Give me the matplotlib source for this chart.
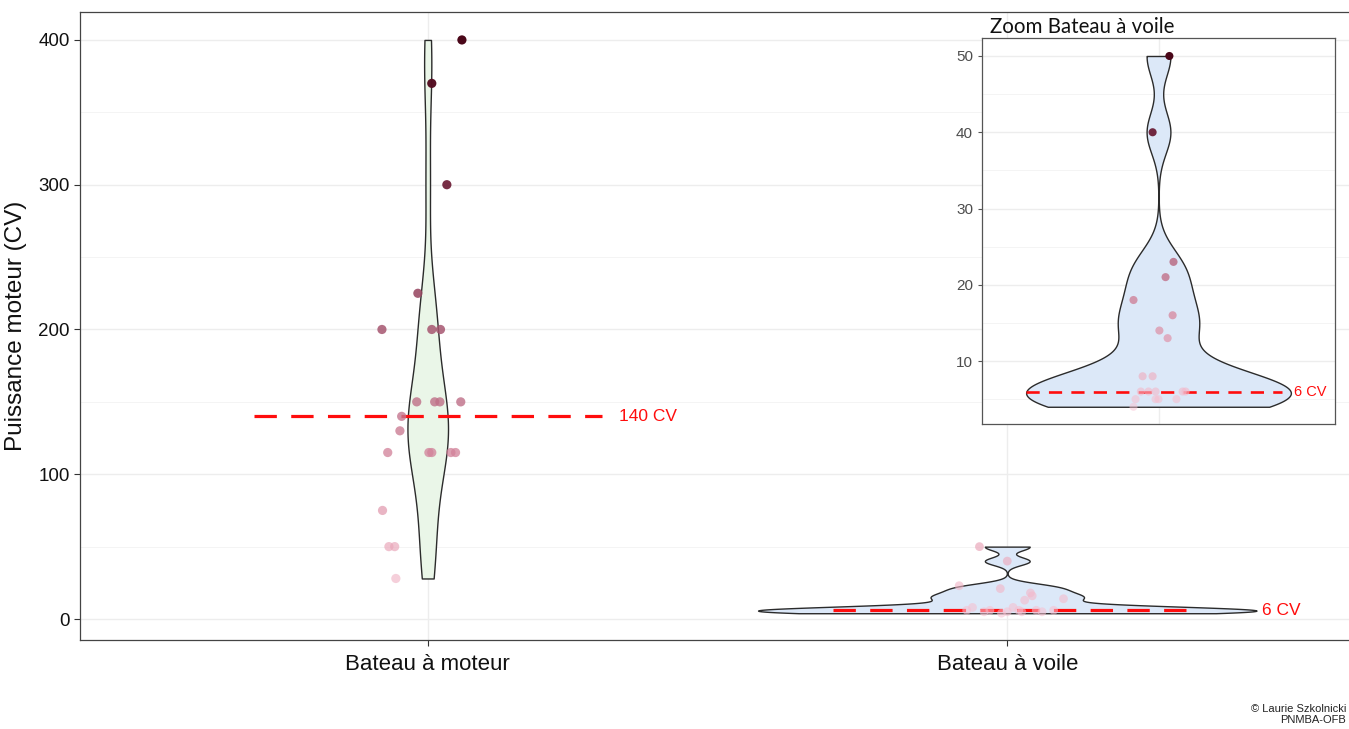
import numpy as np
import matplotlib
matplotlib.use("Agg")
import matplotlib.pyplot as plt
from matplotlib.colors import LinearSegmentedColormap

# ---------------- data ----------------
categories = ["Bateau à moteur", "Bateau à voile"]

moteur_values = [400, 370, 300, 225, 200, 200, 200, 150, 150, 150, 150,
                 140, 130, 115, 115, 115, 115, 115, 75, 50, 50, 28]
moteur_jitter = [0.059, 0.007, 0.033, -0.017, -0.079, 0.007, 0.022, -0.019,
                 0.012, 0.021, 0.057, -0.045, -0.048, -0.069, 0.002, 0.007,
                 0.040, 0.048, -0.078, -0.067, -0.057, -0.055]

voile_values = [50, 40, 23, 21, 18, 16, 14, 13, 8, 8, 6, 6, 6, 6, 6, 5, 5, 5, 5, 4]
voile_jitter_main = [-0.048, 0.0, -0.083, -0.012, 0.040, 0.043, 0.097, 0.030,
                     -0.060, 0.010, -0.030, 0.020, 0.050, -0.070, 0.080, 0.000,
                     -0.040, 0.060, 0.025, -0.010]
voile_jitter_zoom = [0.037, -0.020, 0.051, 0.024, -0.085, 0.048, 0.003, 0.031,
                     -0.054, -0.020, -0.034, -0.010, 0.082, 0.092, -0.060,
                     -0.078, -0.010, 0.000, 0.061, -0.085]

medians = [140, 6]
median_labels = ["140 CV", "6 CV"]

y_ticks_main = [0, 100, 200, 300, 400]
y_ticks_zoom = [10, 20, 30, 40, 50]

# ---------------- helpers ----------------
def nrd0(adjust):
    def f(kde):
        d = np.asarray(kde.dataset).ravel()
        n = d.size
        sd = np.std(d, ddof=1)
        q75, q25 = np.percentile(d, [75, 25])
        lo = min(sd, (q75 - q25) / 1.34)
        bw = adjust * 0.9 * lo * n ** (-0.2)
        return bw / sd
    return f

cmap = LinearSegmentedColormap.from_list(
    "pinkmaroon",
    [(0.0, "#f9c2d2"), (0.25, "#d98aa1"), (0.5, "#a65670"),
     (0.75, "#6e1f38"), (1.0, "#4a0719")])

def point_colors(vals, vmin, vmax):
    v = np.asarray(vals, float)
    t = (v - vmin) / (vmax - vmin)
    cols = cmap(t)
    cols[:, 3] = 0.5 + 0.5 * np.sqrt(t)
    return cols

violin_edge = "#2b2b2b"
fill_moteur = "#eaf6e8"
fill_voile = "#dce8f8"
grid_col = "#ededed"
red = "#ff0d0d"

plt.rcParams["font.family"] = ["Liberation Sans", "DejaVu Sans"]

fig = plt.figure(figsize=(13.49, 7.29), dpi=100)
fig.patch.set_facecolor("white")

# ---------------- main axes ----------------
ax = fig.add_axes([80 / 1349, 1 - 640 / 729, (1355 - 80) / 1349, 628 / 729])
ax.set_xlim(0.4, 2.6)
ax.set_ylim(-14.5, 419.3)

ax.set_yticks(y_ticks_main)
ax.set_yticks([50, 150, 250, 350], minor=True)
ax.set_xticks([1, 2])
ax.set_xticklabels(categories)
ax.grid(True, which="major", color=grid_col, lw=1.0, zorder=0)
ax.grid(True, which="minor", axis="y", color="#f3f3f3", lw=0.6, zorder=0)
ax.set_axisbelow(True)
ax.tick_params(axis="both", which="major", colors="#333333", length=4,
               width=0.8, labelcolor="#111111")
ax.tick_params(axis="y", labelsize=13.5)
ax.tick_params(axis="x", labelsize=16, pad=6)
ax.tick_params(which="minor", length=0)
for s in ax.spines.values():
    s.set_color("#444444")
    s.set_linewidth(0.9)
ax.set_ylabel("Puissance moteur (CV)", fontsize=17.5, color="#111111", labelpad=8)

bw_adjust = [1.0, 0.7]
widths_main = [0.07, 0.86]
fills = [fill_moteur, fill_voile]
for i, vals in enumerate([moteur_values, voile_values]):
    vp = ax.violinplot([vals], positions=[i + 1], widths=[widths_main[i]],
                       showextrema=False, bw_method=nrd0(bw_adjust[i]),
                       points=400)
    for body in vp["bodies"]:
        body.set_facecolor(fills[i])
        body.set_edgecolor(violin_edge)
        body.set_linewidth(1.0)
        body.set_alpha(1)
        body.set_zorder(2)

# red median lines
ax.plot([0.7, 1.3], [medians[0]] * 2, color=red, lw=2.3,
        ls=(0, (7, 4.5)), zorder=3)
ax.plot([1.7, 2.31], [medians[1]] * 2, color=red, lw=2.3,
        ls=(0, (7, 4.5)), zorder=3)
ax.text(1.33, medians[0], median_labels[0], color=red, fontsize=12.5,
        va="center", ha="left", zorder=5)
ax.text(2.44, medians[1], median_labels[1], color=red, fontsize=12.5,
        va="center", ha="left", zorder=5)

allmax = max(moteur_values)
ax.scatter(1 + np.asarray(moteur_jitter), moteur_values, s=44,
           c=point_colors(moteur_values, 0, allmax), edgecolors="none", zorder=4)
ax.scatter(2 + np.asarray(voile_jitter_main), voile_values, s=40,
           c=point_colors(voile_values, 0, allmax), edgecolors="none", zorder=4)

# ---------------- inset ----------------
axi = fig.add_axes([982 / 1349, 1 - 424 / 729, 353 / 1349, 386 / 729])
axi.set_facecolor("white")
axi.set_xlim(0.4, 1.6)
axi.set_ylim(1.74, 52.36)
axi.set_yticks(y_ticks_zoom)
axi.set_yticks([5, 15, 25, 35, 45], minor=True)
axi.set_xticks([1])
axi.set_xticklabels([])
axi.grid(True, which="major", color=grid_col, lw=1.0, zorder=0)
axi.grid(True, which="minor", axis="y", color="#f3f3f3", lw=0.6, zorder=0)
axi.set_axisbelow(True)
axi.tick_params(axis="y", which="major", colors="#555555", length=3,
                width=0.8, labelsize=11, labelcolor="#4d4d4d")
axi.tick_params(axis="x", length=0)
axi.tick_params(which="minor", length=0)
for s in axi.spines.values():
    s.set_color("#555555")
    s.set_linewidth(0.9)

vpi = axi.violinplot([voile_values], positions=[1], widths=[0.9],
                     showextrema=False, bw_method=nrd0(bw_adjust[1]),
                     points=400)
for body in vpi["bodies"]:
    body.set_facecolor(fill_voile)
    body.set_edgecolor(violin_edge)
    body.set_linewidth(1.0)
    body.set_alpha(1)
    body.set_zorder(2)

axi.plot([0.55, 1.42], [medians[1]] * 2, color=red, lw=1.9,
         ls=(0, (5, 3.5)), zorder=3)
axi.text(1.46, medians[1], median_labels[1], color=red, fontsize=10.5,
         va="center", ha="left", zorder=5)
axi.scatter(1 + np.asarray(voile_jitter_zoom), voile_values, s=34,
            c=point_colors(voile_values, min(voile_values), max(voile_values)),
            edgecolors="none", zorder=4)

fig.text(990 / 1349, 1 - 27 / 729, "Zoom Bateau à voile", fontsize=14.8,
         family=["Lato", "DejaVu Sans"], color="#111111", va="center", ha="left")

# credit
fig.text(1346 / 1349, 1 - 709 / 729, "© Laurie Szkolnicki", fontsize=8,
         color="#222222", va="center", ha="right")
fig.text(1346 / 1349, 1 - 720 / 729, "PNMBA-OFB", fontsize=8,
         color="#222222", va="center", ha="right")

fig.savefig("out.png", dpi=100, facecolor="white")
